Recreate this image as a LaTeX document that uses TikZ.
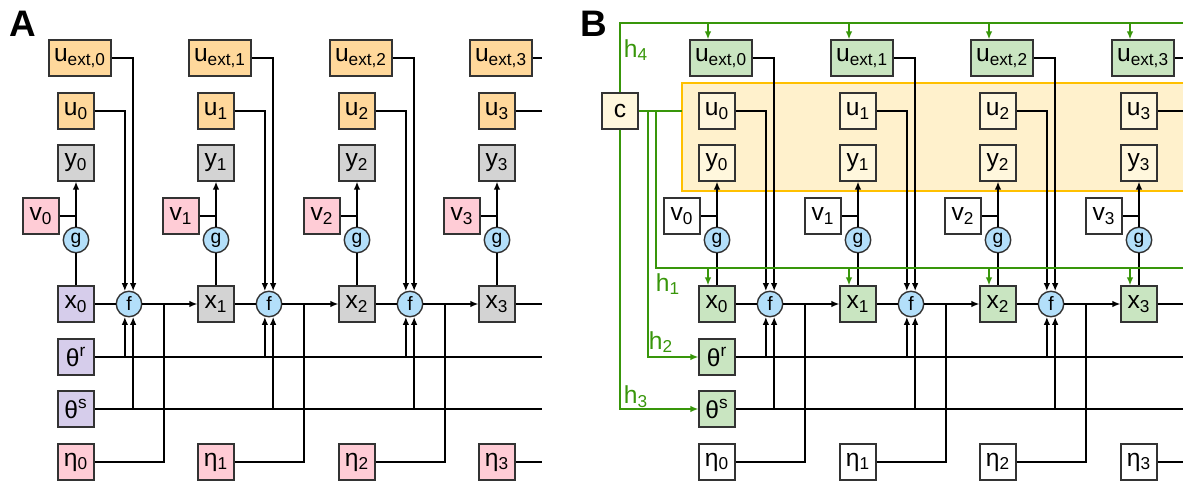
\documentclass[tikz,border=0pt]{standalone}
\usepackage{fontspec}
\setmainfont{Liberation Sans}
\usetikzlibrary{arrows.meta}

\definecolor{ucol}{RGB}{255,216,155}
\definecolor{grey}{RGB}{211,211,211}
\definecolor{pinkc}{RGB}{255,204,214}
\definecolor{lav}{RGB}{214,205,235}
\definecolor{fcol}{RGB}{179,223,250}
\definecolor{greenc}{RGB}{201,229,193}
\definecolor{cream}{RGB}{255,247,221}
\definecolor{bandfill}{RGB}{255,241,204}
\definecolor{bandline}{RGB}{255,192,0}
\definecolor{hgreen}{RGB}{56,150,10}

\begin{document}
\begin{tikzpicture}[
      x=0.02cm, y=-0.02cm,
      font=\fontsize{14}{16}\selectfont,
      wire/.style={line width=1.1pt},
      arrow/.style={line width=1.1pt,-{Latex[length=1.6mm,width=1.3mm]}},
      gwire/.style={line width=0.9pt, draw=hgreen},
      garrow/.style={gwire,-{Latex[length=1.6mm,width=1.3mm]}},
      box/.style={draw=black!80, line width=0.9pt, minimum width=0.71cm,
        minimum height=0.71cm, inner sep=0pt},
      widebox/.style={box, minimum width=1.24cm},
      fn/.style={circle, draw=black!80, line width=0.8pt, fill=fcol,
        minimum size=0.51cm, inner sep=0pt, font=\fontsize{11}{12}\selectfont},
      hlab/.style={text=hgreen},
      panel/.style={font=\bfseries\fontsize{21}{24}\selectfont}
    ]

    \path[use as bounding box] (0,0) rectangle (1192,486);

    % Panel A
    \node[panel] (lA) at (22.5,24) {A};
    \coordinate (endA) at (542,0);

    \foreach \i/\c/\xc in {0/76/lav,1/216/grey,2/357/grey,3/497/grey}{
      \node[widebox, fill=ucol] (ue\i) at (\c+4,58) {u\textsubscript{ext,\i}};
      \node[box, fill=ucol] (u\i) at (\c,111) {u\textsubscript{\i}};
      \node[box, fill=grey] (y\i) at (\c,163) {y\textsubscript{\i}};
      \node[box, fill=pinkc] (v\i) at (\c-35,216) {v\textsubscript{\i}};
      \node[fn] (g\i) at (\c,240) {g};
      \node[box, fill=\xc] (x\i) at (\c,304) {x\textsubscript{\i}};
      \node[box, fill=pinkc] (n\i) at (\c,462) {η\textsubscript{\i}};
      \draw[wire] (x\i) -- (g\i);
      \draw[arrow] (g\i) -- (y\i);
      \draw[wire] (v\i) -- (v\i -| g\i);
    }

    \node[box, fill=lav] (tr) at (76,357) {θ\textsuperscript{r}};
    \node[box, fill=lav] (ts) at (76,409) {θ\textsuperscript{s}};
    \draw[wire] (tr) -- (tr -| endA);
    \draw[wire] (ts) -- (ts -| endA);

    \foreach \i/\c [evaluate=\i as \j using int(\i+1)] in {0/76,1/216,2/357}{
      \node[fn] (f\i) at (\c+53,304) {f};
      \coordinate (m\i) at (\c+88,304);
      \draw[wire] (x\i) -- (f\i);
      \draw[arrow] (f\i) -- (x\j);
      \draw[arrow] (u\i.east) -| (f\i.108);
      \draw[arrow] (ue\i.east) -| (f\i.72);
      \draw[arrow] (tr.east -| f\i.252) -- (f\i.252);
      \draw[arrow] (ts.east -| f\i.288) -- (f\i.288);
      \draw[wire] (n\i.east) -| (m\i);
    }

    \draw[wire] (ue3) -- (ue3 -| endA);
    \draw[wire] (u3) -- (u3 -| endA);
    \draw[wire] (x3) -- (x3 -| endA);
    \draw[wire] (n3) -- (n3 -| endA);

    % Panel B
    \node[panel] (lB) at (593.5,24) {B};
    \coordinate (endB) at (1183,0);

    % shared band behind u and y
    \fill[bandfill] (682,83) rectangle (1183,191);
    \draw[bandline, line width=0.6pt] (1183,83) -- (682,83)
      -- (682,191) -- (1183,191);

    \foreach \i/\c in {0/717,1/858,2/998,3/1139}{
      \node[widebox, fill=greenc] (Bue\i) at (\c+4,58) {u\textsubscript{ext,\i}};
      \node[box, fill=cream] (Bu\i) at (\c,111) {u\textsubscript{\i}};
      \node[box, fill=cream] (By\i) at (\c,163) {y\textsubscript{\i}};
      \node[box, fill=white] (Bv\i) at (\c-35,216) {v\textsubscript{\i}};
      \node[fn] (Bg\i) at (\c,240) {g};
      \node[box, fill=greenc] (Bx\i) at (\c,304) {x\textsubscript{\i}};
      \node[box, fill=white] (Bn\i) at (\c,462) {η\textsubscript{\i}};
      \coordinate (a4\i) at (\c-9,23);
      \coordinate (a1\i) at (\c-9,268);
      \draw[garrow] (a4\i) -- (a4\i |- Bue\i.north);
      \draw[garrow] (a1\i) -- (a1\i |- Bx\i.north);
      \draw[wire] (Bx\i) -- (Bg\i);
      \draw[arrow] (Bg\i) -- (By\i);
      \draw[wire] (Bv\i) -- (Bv\i -| Bg\i);
    }

    \node[box, fill=greenc] (Btr) at (717,357) {θ\textsuperscript{r}};
    \node[box, fill=greenc] (Bts) at (717,409) {θ\textsuperscript{s}};
    \draw[wire] (Btr) -- (Btr -| endB);
    \draw[wire] (Bts) -- (Bts -| endB);

    \foreach \i/\c [evaluate=\i as \j using int(\i+1)] in {0/717,1/858,2/998}{
      \node[fn] (Bf\i) at (\c+53,304) {f};
      \coordinate (Bm\i) at (\c+88,304);
      \draw[wire] (Bx\i) -- (Bf\i);
      \draw[arrow] (Bf\i) -- (Bx\j);
      \draw[arrow] (Bu\i.east) -| (Bf\i.108);
      \draw[arrow] (Bue\i.east) -| (Bf\i.72);
      \draw[arrow] (Btr.east -| Bf\i.252) -- (Bf\i.252);
      \draw[arrow] (Bts.east -| Bf\i.288) -- (Bf\i.288);
      \draw[wire] (Bn\i.east) -| (Bm\i);
    }

    \draw[wire] (Bue3) -- (Bue3 -| endB);
    \draw[wire] (Bu3) -- (Bu3 -| endB);
    \draw[wire] (Bx3) -- (Bx3 -| endB);
    \draw[wire] (Bn3) -- (Bn3 -| endB);

    % context node and its green links
    \node[box, fill=cream] (c) at (620,111) {c};
    \coordinate (h4top) at (620,23);
    \coordinate (bandW) at (682,111);
    \coordinate (k1) at (656,111);
    \coordinate (k2) at (648,111);
    \coordinate (h1top) at (656,268);

    \draw[gwire] (c) -- (h4top) -- (h4top -| endB);
    \draw[gwire] (c) -- (bandW);
    \draw[gwire] (k1) -- (h1top) -- (h1top -| endB);
    \draw[garrow] (k2) |- (Btr);
    \draw[garrow] (c) |- (Bts);

    \node[hlab] (h4) at (636,50) {h\textsubscript{4}};
    \node[hlab] (h1) at (668,284) {h\textsubscript{1}};
    \node[hlab] (h2) at (661,342) {h\textsubscript{2}};
    \node[hlab] (h3) at (636,397) {h\textsubscript{3}};

  \end{tikzpicture}
\end{document}
